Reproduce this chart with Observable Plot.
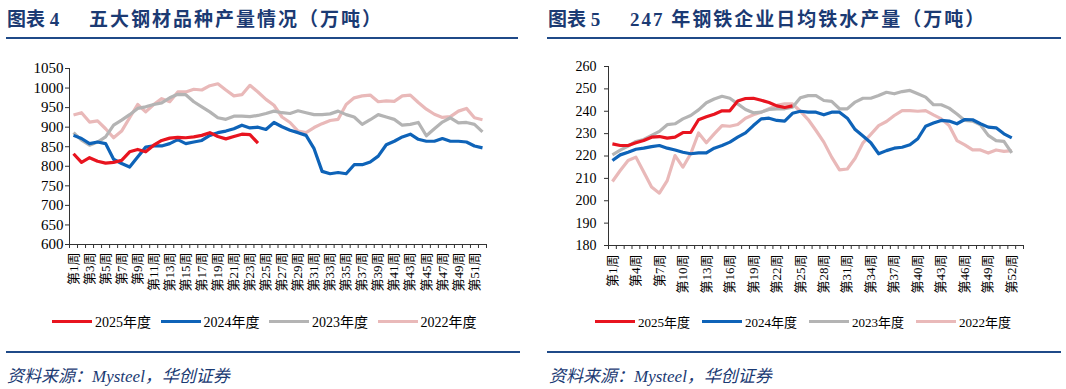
<!DOCTYPE html>
<html>
<head>
<meta charset="utf-8">
<script src="https://cdn.jsdelivr.net/npm/d3@7"></script>
<script src="https://cdn.jsdelivr.net/npm/@observablehq/plot@0.6"></script>
<style>
  body { margin: 0; background: #fff; width: 1066px; height: 389px; position: relative; overflow: hidden;
         font-family: "Liberation Serif", "Noto Sans CJK SC", serif; }
  .title { position: absolute; top: 4px; font-weight: bold; color: #1b3a73; font-size: 19px; white-space: nowrap; }
  .title .rest { position: absolute; top: 0; white-space: nowrap; letter-spacing: 2px; }
  .rule { position: absolute; height: 2px; background: #1f4a88; }
  .src { position: absolute; top: 362px; font-style: italic; color: #1b3a73; font-size: 17px; white-space: nowrap; }
  .chart { position: absolute; top: 50px; }
  .leg { position: absolute; display: flex; align-items: center; white-space: nowrap; color: #000; }
  .leg span.sw { display: inline-block; width: 40px; height: 3px; margin-right: 3px; }
</style>
</head>
<body>
<div class="title" style="left:7px">图表 4<span class="rest" style="left:82px">五大钢材品种产量情况（万吨）</span></div>
<div class="title" style="left:548px">图表 5<span class="rest" style="left:82px">247 年钢铁企业日均铁水产量（万吨）</span></div>
<div class="rule" style="left:6px; width:512px; top:37px"></div>
<div class="rule" style="left:547px; width:514px; top:37px"></div>
<div id="left" class="chart" style="left:0px"></div>
<div id="right" class="chart" style="left:540px"></div>
<div id="legL"></div>
<div id="legR"></div>
<div class="rule" style="left:6px; width:514px; top:351px"></div>
<div class="rule" style="left:547px; width:514px; top:351px"></div>
<div class="src" style="left:7px">资料来源：Mysteel，华创证券</div>
<div class="src" style="left:549px">资料来源：Mysteel，华创证券</div>
<script>
// ---------- categories / labels ----------
const seriesNames = ["2025年度", "2024年度", "2023年度", "2022年度"];
const seriesColors = ["#e8141f", "#0e63b8", "#b4b4b4", "#e9b9b9"];

const leftWeekCount = 52;
const leftTickWeeks = [1,3,5,7,9,11,13,15,17,19,21,23,25,27,29,31,33,35,37,39,41,43,45,47,49,51];
const leftTickLabels = ["第1周","第3周","第5周","第7周","第9周","第11周","第13周","第15周","第17周","第19周","第21周","第23周","第25周","第27周","第29周","第31周","第33周","第35周","第37周","第39周","第41周","第43周","第45周","第47周","第49周","第51周"];
const leftYTicks = [600,650,700,750,800,850,900,950,1000,1050];

const rightWeekCount = 53;
const rightTickWeeks = [1,4,7,10,13,16,19,22,25,28,31,34,37,40,43,46,49,52];
const rightTickLabels = ["第1周","第4周","第7周","第10周","第13周","第16周","第19周","第22周","第25周","第28周","第31周","第34周","第37周","第40周","第43周","第46周","第49周","第52周"];
const rightYTicks = [180,190,200,210,220,230,240,250,260];

// ---------- 五大钢材品种产量 (万吨) ----------
const steel2025 = [832,810,822,813,808,810,815,837,843,837,854,866,872,874,873,875,879,886,876,870,876,882,881,859];
const steel2024 = [879,871,858,862,858,818,807,798,824,849,852,852,858,868,858,862,866,879,886,890,896,905,898,900,894,912,901,892,886,879,845,787,781,784,781,804,804,811,826,855,864,875,882,869,864,864,871,864,864,862,852,847];
const steel2023 = [886,867,854,862,875,905,918,932,948,952,958,962,975,984,983,965,952,939,924,920,928,928,927,930,935,941,937,935,942,937,932,932,934,941,932,926,907,919,932,926,920,905,907,912,878,896,913,924,911,912,907,888];
const steel2022 = [931,937,913,916,896,873,890,924,958,939,958,973,965,990,990,997,995,1006,1011,995,980,983,1007,990,971,956,926,912,890,886,899,909,917,920,958,975,980,982,965,967,966,980,982,963,946,933,925,927,941,948,924,919];

// ---------- 247 家钢厂日均铁水产量 (万吨) ----------
const iron2025 = [225.4,224.7,224.7,225.9,226.9,228.4,228.7,228.0,228.4,230.5,230.5,236.2,237.5,238.7,240.2,240.2,244.6,245.7,245.8,244.9,243.9,242.4,241.7,242.4];
const iron2024 = [218.0,220.5,221.7,223.0,223.5,224.2,224.7,223.5,222.7,221.7,221.0,221.4,221.4,223.5,224.7,226.2,228.4,230.3,233.6,236.6,236.9,235.9,235.6,239.1,240.0,239.6,239.6,238.4,239.6,239.6,236.9,231.8,228.9,225.9,221.0,222.4,223.5,223.9,225.0,227.7,233.3,234.7,235.9,235.6,234.4,236.3,236.2,234.4,232.9,232.6,229.9,228.1];
const iron2023 = [220.5,222.6,224.4,226.5,227.4,229.2,231.0,234.0,234.4,236.6,238.1,240.6,243.8,245.5,246.7,245.8,243.3,240.8,239.3,239.6,240.8,241.1,241.1,241.8,246.0,247.0,247.0,244.8,244.4,241.1,241.1,244.1,245.8,245.8,247.0,248.5,247.8,248.8,249.3,247.8,246.3,242.9,242.9,241.4,238.8,235.9,235.6,233.9,229.2,226.9,226.5,221.4];
const iron2022 = [208.6,213.5,218.0,219.5,212.8,206.1,203.4,209.0,220.2,215.0,221.0,230.3,225.9,229.9,233.6,233.3,234.1,236.9,238.4,239.6,241.1,242.6,243.3,243.3,240.0,236.3,231.4,226.2,219.5,213.8,214.2,219.0,225.9,229.7,233.6,235.4,238.1,240.3,240.3,240.0,240.3,238.4,236.6,233.6,226.9,225.0,222.7,222.7,221.3,222.7,222.1,222.4];

// ---------- helpers ----------
function toRows(list) {
  const rows = [];
  for (const [name, values] of list) values.forEach((v, i) => rows.push({week: i + 1, value: v, series: name}));
  return rows;
}
const FONT = '"Liberation Serif", "Noto Sans CJK SC", serif';

function makeChart(opts) {
  const rows = toRows(opts.series);
  const boundaries = d3.range(0.5, opts.weekCount + 1, 1);
  return Plot.plot({
    width: opts.width, height: 250,
    marginLeft: opts.ml, marginRight: opts.mr, marginTop: opts.mt, marginBottom: opts.mb,
    style: {fontFamily: FONT, color: "#000", background: "transparent", overflow: "visible"},
    x: {type: "linear", domain: [0.5, opts.weekCount + 0.5]},
    y: {domain: opts.yDomain},
    color: {domain: seriesNames, range: seriesColors},
    marks: [
      Plot.axisY({ticks: opts.yTicks, tickSize: 4, tickPadding: opts.yPad, tickFormat: d => String(d),
                  label: null, fontSize: opts.yFont, stroke: "#333"}),
      Plot.axisX({ticks: boundaries, tickSize: 4, tickFormat: () => "", label: null, stroke: "#333"}),
      Plot.axisX({ticks: opts.tickWeeks, tickSize: 0, tickPadding: opts.xPad, tickRotate: -90,
                  tickFormat: d => opts.tickLabels[opts.tickWeeks.indexOf(d)], label: null, fontSize: opts.xFont}),
      Plot.ruleX([0.5], {stroke: "#333"}),
      Plot.ruleY([opts.yDomain[0]], {stroke: "#333"}),
      Plot.line(rows, {x: "week", y: "value", z: "series", stroke: "series", strokeWidth: 3.2,
                       strokeLinejoin: "round", strokeLinecap: "butt"})
    ]
  });
}

document.getElementById("left").append(makeChart({
  width: 530, ml: 69, mr: 44, mt: 18, mb: 56, weekCount: leftWeekCount,
  yDomain: [600, 1050], yTicks: leftYTicks, yPad: 2, yFont: 15, xPad: 8, xFont: 13,
  tickWeeks: leftTickWeeks, tickLabels: leftTickLabels,
  series: [["2022年度", steel2022], ["2023年度", steel2023], ["2024年度", steel2024], ["2025年度", steel2025]]
}));

document.getElementById("right").append(makeChart({
  width: 526, ml: 68, mr: 43, mt: 16, mb: 55, weekCount: rightWeekCount,
  yDomain: [180, 260], yTicks: rightYTicks, yPad: 8, yFont: 14, xPad: 9, xFont: 13,
  tickWeeks: rightTickWeeks, tickLabels: rightTickLabels,
  series: [["2022年度", iron2022], ["2023年度", iron2023], ["2024年度", iron2024], ["2025年度", iron2025]]
}));

function legend(id, x0, step, top, fontSize) {
  const host = document.getElementById(id);
  seriesNames.forEach((name, i) => {
    const d = document.createElement("div");
    d.className = "leg";
    d.style.left = (x0 + i * step) + "px";
    d.style.top = top + "px";
    d.style.fontSize = fontSize + "px";
    d.innerHTML = `<span class="sw" style="background:${seriesColors[i]}"></span><span>${name}</span>`;
    host.append(d);
  });
}
legend("legL", 52, 108.5, 311, 14);
legend("legR", 595, 107, 312, 13);
</script>
</body>
</html>
